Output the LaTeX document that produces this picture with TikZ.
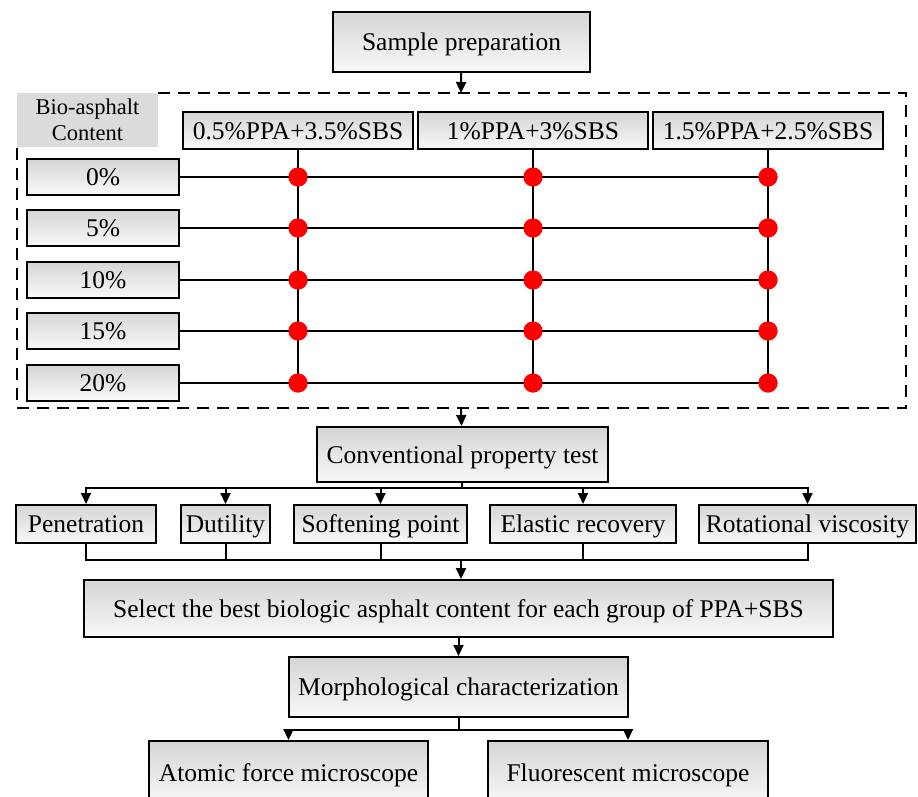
\documentclass[tikz,border=0pt]{standalone}
\usepackage{fontspec}
\setmainfont{Liberation Serif}
\usetikzlibrary{arrows.meta}
\tikzset{
  box/.style={draw, line width=2pt, top color=gray!33, bottom color=gray!5, inner sep=0pt, font=\fontsize{25.5}{28}\selectfont, text height=20pt, text depth=3pt},
  ln/.style={line width=2pt},
  arr/.style={line width=2pt, -{Triangle[length=11pt,width=10pt]}},
  dot/.style={circle, fill=red, minimum size=19pt, inner sep=0pt},
}
\begin{document}
\begin{tikzpicture}[x=1pt,y=-1pt]
\useasboundingbox (0,0) rectangle (918,796);
% top
\node[box, minimum width=257, minimum height=60] (sp) at (461.5,42) {Sample preparation};
\coordinate (dtop) at (461,93);
\coordinate (dbot) at (461,408);
\draw[line width=1.8pt, dash pattern=on 12pt off 8pt] (158,93) -- (906,93) -- (906,408) -- (17,408) -- (17,147);
\node[fill=gray!28, minimum width=141, minimum height=54, inner sep=0pt, align=center, font=\fontsize{22.5}{26}\selectfont] (lab) at (87.5,120) {Bio-asphalt\\Content};
\draw[arr] (sp) -- (dtop);
% column headers
\node[box, minimum width=230, minimum height=37] (h1) at (298,130.5) {0.5\%PPA+3.5\%SBS};
\node[box, minimum width=230, minimum height=37] (h2) at (533,130.5) {1\%PPA+3\%SBS};
\node[box, minimum width=230, minimum height=37] (h3) at (768,130.5) {1.5\%PPA+2.5\%SBS};
% rows
\foreach \i/\t/\y in {1/0\%/177, 2/5\%/228, 3/10\%/280, 4/15\%/331, 5/20\%/383}{
  \node[box, minimum width=152, minimum height=36] (r\i) at (103,\y) {\t};
  \node[dot] (d\i a) at (298,\y) {};
  \node[dot] (d\i b) at (533,\y) {};
  \node[dot] (d\i c) at (768,\y) {};
}
\foreach \i in {1,...,5}{
  \draw[ln] (r\i) -- (d\i c.center);
}
\draw[ln] (h1) -- (d5a.center);
\draw[ln] (h2) -- (d5b.center);
\draw[ln] (h3) -- (d5c.center);
\foreach \i in {1,...,5}{
  \node[dot] at (d\i a) {};
  \node[dot] at (d\i b) {};
  \node[dot] at (d\i c) {};
}
% conventional
\node[box, minimum width=291, minimum height=55] (cpt) at (462.5,454.5) {Conventional property test};
\draw[arr] (dbot) -- (cpt);
\node[box, minimum width=140, minimum height=38] (pen) at (86,524) {Penetration};
\node[box, minimum width=89, minimum height=38] (dut) at (225.5,524) {Dutility};
\node[box, minimum width=173, minimum height=38] (sof) at (380.5,524) {Softening point};
\node[box, minimum width=186, minimum height=38] (ela) at (583,524) {Elastic recovery};
\node[box, minimum width=217, minimum height=38] (rot) at (807.5,524) {Rotational viscosity};
\coordinate (b1) at (462,488);
\draw[ln] (cpt) -- (b1);
\foreach \n in {pen,dut,sof,ela,rot}{
  \draw[arr] (b1) -| (\n);
}
\coordinate (b2) at (461,560);
\foreach \n in {pen,dut,sof,ela,rot}{
  \draw[ln] (\n) |- (b2);
}
\node[box, minimum width=749, minimum height=57] (sel) at (458.5,608.5) {Select the best biologic asphalt content for each group of PPA+SBS};
\draw[arr] (b2) -- (b2 |- sel.north);
\node[box, minimum width=339, minimum height=60] (mor) at (458.5,687) {Morphological characterization};
\draw[arr] (sel) -- (mor);
\coordinate (b3) at (458.5,730);
\node[box, minimum width=279, minimum height=64] (afm) at (288.5,773) {Atomic force microscope};
\node[box, minimum width=280, minimum height=64] (flu) at (628,773) {Fluorescent microscope};
\draw[ln] (mor) -- (b3);
\draw[arr] (b3) -| (afm);
\draw[arr] (b3) -| (flu);
\end{tikzpicture}
\end{document}
